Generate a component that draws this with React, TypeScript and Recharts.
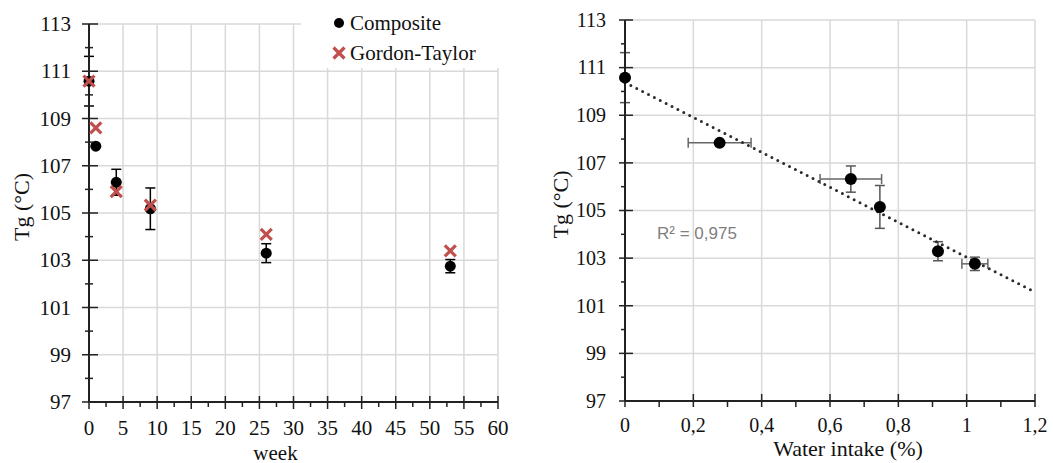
import React from 'react';
import {
  ScatterChart, Scatter, XAxis, YAxis, CartesianGrid, ErrorBar, Legend,
} from 'recharts';

// ---------- Left chart data (Tg vs week) ----------
const weeks = [0, 1, 4, 9, 26, 53];
const compositeTg = [110.58, 107.83, 106.3, 105.18, 103.3, 102.75];
const compositeErr = [1.05, 0, 0.55, 0.88, 0.4, 0.28];
const gordonTaylorTg = [110.58, 108.6, 105.9, 105.33, 104.1, 103.4];

// ---------- Right chart data (Tg vs water intake) ----------
const waterIntake = [0, 0.277, 0.661, 0.746, 0.916, 1.024];
const waterTg = [110.58, 107.84, 106.32, 105.15, 103.29, 102.76];
const waterTgErr = [1.05, 0, 0.55, 0.9, 0.4, 0.28];
const waterIntakeErr = [0, 0.092, 0.09, 0, 0, 0.038];
const trendX = [0, 1.2];
const trendY = [110.38, 101.57];
const r2Label = 'R² = 0,975';

// ---------- Axis ticks ----------
const tgTicks = [97, 98, 99, 100, 101, 102, 103, 104, 105, 106, 107, 108, 109, 110, 111, 112, 113];
const tgMajor = [97, 99, 101, 103, 105, 107, 109, 111, 113];
const weekTicks = [0, 2.5, 5, 7.5, 10, 12.5, 15, 17.5, 20, 22.5, 25, 27.5, 30, 32.5, 35, 37.5, 40, 42.5, 45, 47.5, 50, 52.5, 55, 57.5, 60];
const weekMajor = [0, 5, 10, 15, 20, 25, 30, 35, 40, 45, 50, 55, 60];
const waterTicks = [0, 0.1, 0.2, 0.3, 0.4, 0.5, 0.6, 0.7, 0.8, 0.9, 1, 1.1, 1.2];
const waterMajor = [0, 0.2, 0.4, 0.6, 0.8, 1, 1.2];

const seriesNames = ['Composite', 'Gordon-Taylor'];

const compositeData = weeks.map((w, i) => ({ x: w, y: compositeTg[i], err: compositeErr[i] }));
const gtData = weeks.map((w, i) => ({ x: w, y: gordonTaylorTg[i] }));
const waterData = waterIntake.map((w, i) => ({ x: w, y: waterTg[i], yerr: waterTgErr[i], xerr: waterIntakeErr[i] }));
const trendData = trendX.map((x, i) => ({ x, y: trendY[i] }));

const SERIF = '"Liberation Serif", "Times New Roman", serif';
const TXT = '#111';
const AXIS = '#222';
const GRID = '#d9d9d9';
const RED = '#c0504d';

const isIn = (arr: number[], v: number) => arr.some((a) => Math.abs(a - v) < 1e-9);

const makeYTick = (fontSize: number, gap: number, majIn: number, majOut: number, minIn: number, minOut: number) => (props: any) => {
  const { x, y, payload } = props;
  const v = payload.value;
  const major = isIn(tgMajor, v);
  return (
    <g>
      <line x1={x - (major ? majOut : minOut)} x2={x + (major ? majIn : minIn)} y1={y} y2={y} stroke={AXIS} strokeWidth={1.5} />
      {major && (
        <text x={x - gap} y={y} dy="0.34em" textAnchor="end" fontFamily={SERIF} fontSize={fontSize} fill={TXT}>
          {v}
        </text>
      )}
    </g>
  );
};

const makeXTick = (majors: number[], fontSize: number, dy: number, majUp: number, majDown: number, minUp: number, minDown: number, fmt: (v: number) => string) => (props: any) => {
  const { x, y, payload } = props;
  const v = payload.value;
  const major = isIn(majors, v);
  return (
    <g>
      <line x1={x} x2={x} y1={y - (major ? majUp : minUp)} y2={y + (major ? majDown : minDown)} stroke={AXIS} strokeWidth={1.5} />
      {major && (
        <text x={x} y={y + dy} textAnchor="middle" fontFamily={SERIF} fontSize={fontSize} fill={TXT}>
          {fmt(v)}
        </text>
      )}
    </g>
  );
};

const LeftYTick = makeYTick(21, 18, 9, 7, 4, 4);
const RightYTick = makeYTick(20, 19, 8, 6, 0, 4);
const LeftXTick = makeXTick(weekMajor, 21, 33, 6, 7, 0, 5, (v) => String(v));
const RightXTick = makeXTick(waterMajor, 20, 31, 7, 6, 0, 6, (v) => String(v).replace('.', ','));

const YLabel = (dx: number) => (props: any) => {
  const vb = props.viewBox;
  const cx = vb.x + dx;
  const cy = vb.y + vb.height / 2 - 6;
  return (
    <text x={cx} y={cy} transform={`rotate(-90 ${cx} ${cy})`} textAnchor="middle" dominantBaseline="central" fontFamily={SERIF} fontSize={22} fill={TXT}>
      Tg (°C)
    </text>
  );
};

const XLabel = (text: string, dx: number, baseline: number, fontSize: number) => (props: any) => {
  const vb = props.viewBox;
  return (
    <text x={vb.x + vb.width / 2 + dx} y={vb.y + baseline} textAnchor="middle" fontFamily={SERIF} fontSize={fontSize} fill={TXT}>
      {text}
    </text>
  );
};

const DotShape = (r: number) => (props: any) => <circle cx={props.cx} cy={props.cy} r={r} fill="#000" />;
const CrossShape = (props: any) => {
  const { cx, cy } = props;
  const s = 5.5;
  return (
    <g stroke={RED} strokeWidth={3.2} strokeLinecap="butt">
      <line x1={cx - s} y1={cy - s} x2={cx + s} y2={cy + s} />
      <line x1={cx - s} y1={cy + s} x2={cx + s} y2={cy - s} />
    </g>
  );
};

const LegendContent = () => (
  <div style={{ background: '#fff', width: '100%', height: '100%', position: 'relative', fontFamily: SERIF, fontSize: 21, color: TXT }}>
    {seriesNames.map((name, i) => (
      <div key={name} style={{ position: 'absolute', left: 0, top: 10 + i * 30, height: 26, display: 'flex', alignItems: 'center', whiteSpace: 'nowrap' }}>
        <svg width={48} height={26} style={{ display: 'block' }}>
          {i === 0 ? (
            <circle cx={38} cy={13} r={5} fill="#000" />
          ) : (
            <g stroke={RED} strokeWidth={3.2}>
              <line x1={32.5} y1={7.5} x2={43.5} y2={18.5} />
              <line x1={32.5} y1={18.5} x2={43.5} y2={7.5} />
            </g>
          )}
        </svg>
        <span style={{ marginLeft: 1 }}>{name}</span>
      </div>
    ))}
  </div>
);

export default function App() {
  return (
    <div style={{ position: 'absolute', left: 0, top: 0, width: 1053, height: 463, background: '#fff' }}>
      <div style={{ position: 'absolute', left: 0, top: 0 }}>
        <ScatterChart width={530} height={463} margin={{ top: 24, right: 32, bottom: 0, left: 0 }}>
          <CartesianGrid stroke={GRID} strokeWidth={1.5} horizontalValues={[99, 101, 103, 105, 107, 109, 111, 113]} verticalValues={[5, 10, 15, 20, 25, 30, 35, 40, 45, 50, 55, 60]} />
          <XAxis
            type="number"
            dataKey="x"
            domain={[0, 60]}
            ticks={weekTicks}
            interval={0}
            height={61}
            tickSize={0}
            tickMargin={0}
            tickLine={false}
            axisLine={{ stroke: AXIS, strokeWidth: 2 }}
            tick={LeftXTick}
            label={{ content: XLabel('week', -18, 57.5, 21) }}
          />
          <YAxis
            type="number"
            dataKey="y"
            domain={[97, 113]}
            ticks={tgTicks}
            interval={0}
            width={89}
            tickSize={0}
            tickMargin={0}
            tickLine={false}
            axisLine={{ stroke: AXIS, strokeWidth: 2 }}
            tick={LeftYTick}
            label={{ content: YLabel(21) }}
          />
          <Legend
            layout="horizontal"
            verticalAlign="middle"
            align="center"
            content={LegendContent}
            wrapperStyle={{ left: 301, top: 0, width: 210, height: 68 }}
          />
          <Scatter name={seriesNames[0]} data={compositeData} shape={DotShape(5.5)} isAnimationActive={false}>
            <ErrorBar dataKey="err" direction="y" width={5} stroke="#000" strokeWidth={1.5} />
          </Scatter>
          <Scatter name={seriesNames[1]} data={gtData} shape={CrossShape} isAnimationActive={false} />
        </ScatterChart>
      </div>
      <div style={{ position: 'absolute', left: 530, top: 0 }}>
        <ScatterChart width={523} height={463} margin={{ top: 20, right: 18, bottom: 0, left: 0 }}>
          <CartesianGrid stroke={GRID} strokeWidth={1.5} horizontalValues={[99, 101, 103, 105, 107, 109, 111, 113]} verticalValues={[0.2, 0.4, 0.6, 0.8, 1, 1.2]} />
          <XAxis
            type="number"
            dataKey="x"
            domain={[0, 1.2]}
            ticks={waterTicks}
            interval={0}
            height={62}
            tickSize={0}
            tickMargin={0}
            tickLine={false}
            axisLine={{ stroke: AXIS, strokeWidth: 2 }}
            tick={RightXTick}
            label={{ content: XLabel('Water intake (%)', 18, 55, 22) }}
          />
          <YAxis
            type="number"
            dataKey="y"
            domain={[97, 113]}
            ticks={tgTicks}
            interval={0}
            width={95}
            tickSize={0}
            tickMargin={0}
            tickLine={false}
            axisLine={{ stroke: AXIS, strokeWidth: 2 }}
            tick={RightYTick}
            label={{ content: YLabel(30) }}
          />
          <Scatter
            name="trend"
            data={trendData}
            line={{ stroke: '#2b2b2b', strokeWidth: 3, strokeDasharray: '0 6.6', strokeLinecap: 'round' }}
            shape={() => <g />}
            legendType="none"
            isAnimationActive={false}
          />
          <Scatter name="Composite" data={waterData} shape={DotShape(6)} isAnimationActive={false}>
            <ErrorBar dataKey="yerr" direction="y" width={5} stroke="#555" strokeWidth={1.5} />
            <ErrorBar dataKey="xerr" direction="x" width={5} stroke="#666" strokeWidth={1.5} />
          </Scatter>
        </ScatterChart>
        <div style={{ position: 'absolute', left: 127, top: 224, fontFamily: '"Liberation Sans", Arial, sans-serif', fontSize: 17, color: '#7f7f7f', whiteSpace: 'nowrap' }}>
          {r2Label}
        </div>
      </div>
    </div>
  );
}
